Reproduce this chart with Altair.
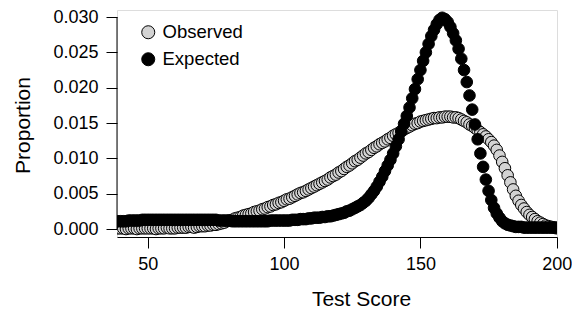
import altair as alt
import pandas as pd

# Test scores (x) for both series
scores = list(range(36, 201))

# Observed proportions (gray circles)
observed = [
    0.0001, 0.0001, 0.0001, 0.0001,                                   # 36-39
    0.0001, 0.0001, 0.0000, 0.0001, 0.0001, 0.0001, 0.0000, 0.0001, 0.0001, 0.0001,  # 40-49
    0.0001, 0.0001, 0.0001, 0.0000, 0.0001, 0.0001, 0.0001, 0.0002, 0.0001, 0.0001,  # 50-59
    0.0001, 0.0002, 0.0002, 0.0002, 0.0002, 0.0003, 0.0003, 0.0002, 0.0003, 0.0004,  # 60-69
    0.0004, 0.0004, 0.0005, 0.0005, 0.0006, 0.0006, 0.0007, 0.0008, 0.0009, 0.0011,  # 70-79
    0.0012, 0.0013, 0.0015, 0.0016, 0.0017, 0.0019, 0.0020, 0.0021, 0.0022, 0.0024,  # 80-89
    0.0025, 0.0026, 0.0028, 0.0029, 0.0031, 0.0032, 0.0034, 0.0035, 0.0037, 0.0038,  # 90-99
    0.0040, 0.0042, 0.0043, 0.0045, 0.0047, 0.0049, 0.0051, 0.0052, 0.0054, 0.0056,  # 100-109
    0.0058, 0.0060, 0.0062, 0.0064, 0.0066, 0.0068, 0.0070, 0.0073, 0.0075, 0.0077,  # 110-119
    0.0080, 0.0082, 0.0085, 0.0088, 0.0090, 0.0093, 0.0096, 0.0098, 0.0101, 0.0104,  # 120-129
    0.0107, 0.0109, 0.0112, 0.0115, 0.0117, 0.0120, 0.0122, 0.0124, 0.0127, 0.0129,  # 130-139
    0.0132, 0.0134, 0.0136, 0.0139, 0.0141, 0.0143, 0.0145, 0.0147, 0.0149, 0.0150,  # 140-149
    0.0152, 0.0153, 0.0154, 0.0155, 0.0156, 0.0157, 0.0157, 0.0158, 0.0158, 0.0159,  # 150-159
    0.0159, 0.0159, 0.0158, 0.0158, 0.0157, 0.0155, 0.0153, 0.0151, 0.0148, 0.0146,  # 160-169
    0.0143, 0.0140, 0.0137, 0.0134, 0.0131, 0.0127, 0.0123, 0.0118, 0.0112, 0.0104,  # 170-179
    0.0095, 0.0086, 0.0076, 0.0066, 0.0056, 0.0047, 0.0040, 0.0034, 0.0029, 0.0024,  # 180-189
    0.0020, 0.0017, 0.0014, 0.0011, 0.0009, 0.0007, 0.0005, 0.0004, 0.0003, 0.0002,  # 190-199
    0.0001,                                                           # 200
]

# Expected proportions (black circles)
expected = [
    0.0010, 0.0010, 0.0010, 0.0011,                                   # 36-39
    0.0011, 0.0011, 0.0011, 0.0012, 0.0012, 0.0012, 0.0012, 0.0012, 0.0013, 0.0013,  # 40-49
    0.0013, 0.0013, 0.0013, 0.0013, 0.0013, 0.0013, 0.0013, 0.0013, 0.0013, 0.0013,  # 50-59
    0.0013, 0.0013, 0.0013, 0.0013, 0.0013, 0.0013, 0.0013, 0.0013, 0.0013, 0.0013,  # 60-69
    0.0013, 0.0013, 0.0013, 0.0013, 0.0013, 0.0013, 0.0012, 0.0012, 0.0012, 0.0012,  # 70-79
    0.0012, 0.0011, 0.0011, 0.0011, 0.0011, 0.0011, 0.0011, 0.0011, 0.0011, 0.0011,  # 80-89
    0.0011, 0.0011, 0.0011, 0.0011, 0.0011, 0.0012, 0.0012, 0.0012, 0.0012, 0.0012,  # 90-99
    0.0012, 0.0012, 0.0012, 0.0013, 0.0013, 0.0013, 0.0014, 0.0014, 0.0014, 0.0015,  # 100-109
    0.0015, 0.0016, 0.0016, 0.0016, 0.0017, 0.0017, 0.0018, 0.0018, 0.0019, 0.0020,  # 110-119
    0.0021, 0.0022, 0.0023, 0.0025, 0.0026, 0.0028, 0.0030, 0.0032, 0.0034, 0.0037,  # 120-129
    0.0040, 0.0044, 0.0049, 0.0054, 0.0060, 0.0067, 0.0074, 0.0082, 0.0090, 0.0098,  # 130-139
    0.0107, 0.0117, 0.0127, 0.0138, 0.0149, 0.0160, 0.0172, 0.0185, 0.0198, 0.0212,  # 140-149
    0.0225, 0.0238, 0.0250, 0.0262, 0.0273, 0.0282, 0.0290, 0.0296, 0.0299, 0.0297,  # 150-159
    0.0293, 0.0286, 0.0277, 0.0267, 0.0255, 0.0241, 0.0225, 0.0208, 0.0189, 0.0169,  # 160-169
    0.0148, 0.0127, 0.0107, 0.0088, 0.0070, 0.0054, 0.0041, 0.0030, 0.0022, 0.0016,  # 170-179
    0.0011, 0.0008, 0.0006, 0.0005, 0.0004, 0.0003, 0.0003, 0.0003, 0.0002, 0.0002,  # 180-189
    0.0002, 0.0002, 0.0002, 0.0002, 0.0002, 0.0002, 0.0002, 0.0002, 0.0002, 0.0002,  # 190-199
    0.0002,                                                           # 200
]

series_names = ["Observed", "Expected"]
series_colors = ["#d3d3d3", "#000000"]
x_ticks = [50, 100, 150, 200]
y_ticks = [0.0, 0.005, 0.010, 0.015, 0.020, 0.025, 0.030]

df = pd.DataFrame({
    "score": scores * 2,
    "proportion": observed + expected,
    "series": ["Observed"] * len(scores) + ["Expected"] * len(scores),
})

FONT = "Liberation Sans"

x_enc = alt.X(
    "score:Q",
    scale=alt.Scale(domain=[38.7, 200.1], nice=False, zero=False),
    axis=alt.Axis(
        values=x_ticks, title="Test Score", grid=False, tickSize=11,
        labelPadding=7, labelFontSize=18, titleFontSize=21,
        labelOverlap=False, labelFlush=False,
        titleFontWeight="normal", titleX=244, titleY=68,
        titleBaseline="alphabetic", titleAlign="center",
        domainColor="black", tickColor="black", labelColor="black",
        titleColor="black", labelFont=FONT, titleFont=FONT,
    ),
)
y_axis = alt.Axis(
    values=y_ticks, format=".3f", title="Proportion", grid=False,
    domain=False, tickSize=11, labelPadding=8, labelFontSize=18,
    labelOverlap=False, labelFlush=False,
    titleFontSize=21, titleFontWeight="normal", titleAngle=270,
    titleX=-88, titleY=115, titleBaseline="alphabetic",
    titleAlign="center", tickColor="black", labelColor="black",
    titleColor="black", labelFont=FONT, titleFont=FONT,
)
y_scale = alt.Scale(domain=[-0.00113, 0.0310], nice=False, zero=False)
y_enc = alt.Y("proportion:Q", scale=y_scale, axis=y_axis)

fill_enc = alt.Fill(
    "series:N",
    scale=alt.Scale(domain=series_names, range=series_colors),
    legend=alt.Legend(
        title=None, orient="none", legendX=22, legendY=13, padding=0,
        symbolType="circle", symbolSize=170, symbolStrokeColor="black",
        symbolStrokeWidth=1, symbolOpacity=1, labelFontSize=18.5,
        labelFont=FONT, labelColor="black", labelOffset=5, rowPadding=8,
    ),
)

base = alt.Chart(df).mark_circle(
    size=135, stroke="black", strokeWidth=1, opacity=1, clip=True
).encode(x=x_enc, y=y_enc, fill=fill_enc)

obs_layer = base.transform_filter(alt.datum.series == "Observed")
exp_layer = base.transform_filter(alt.datum.series == "Expected")

# y-axis line spanning only the tick range (0 to 0.030)
yline = alt.Chart(pd.DataFrame({"proportion": [0.0], "hi": [0.030]})).mark_rule(
    color="black", strokeWidth=1
).encode(x=alt.value(0), y=y_enc, y2="hi:Q")

chart = alt.layer(obs_layer, exp_layer, yline).properties(
    width=440, height=227,
    autosize=alt.AutoSizeParams(type="none"),
    padding={"left": 109, "top": 2, "right": 15, "bottom": 73},
).configure_view(stroke=None).configure(font=FONT)

chart.save("out.html", embed_options={"renderer": "svg", "actions": False})
